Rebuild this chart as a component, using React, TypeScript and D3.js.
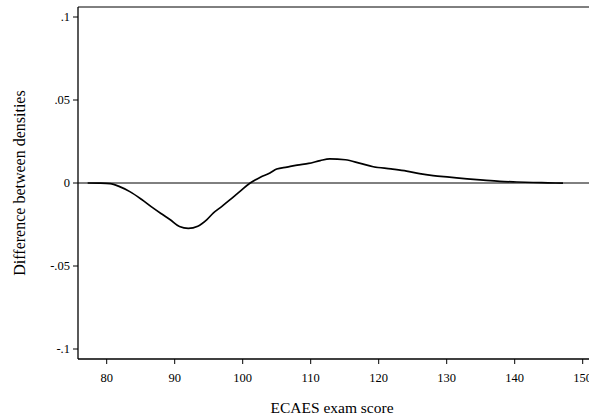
import React from "react";
import * as d3 from "d3";

// ECAES exam score grid and the difference between the two kernel densities
const scores = [77.2, 78.9, 80.5, 81.9, 83.4, 85.1, 86.8, 88.1, 89.4, 90.7, 92.0, 93.4, 94.7, 95.7, 96.9, 98.1, 99.6, 101.1, 102.6, 104.0, 105.0, 106.5, 108.0, 109.7, 111.4, 112.8, 115.1, 117.3, 119.2, 121.8, 124.1, 126.0, 128.0, 130.4, 133.0, 135.4, 137.8, 140.3, 142.7, 144.9, 147.1];
const diffs = [0, -0.0001, -0.0004, -0.0022, -0.0052, -0.0098, -0.015, -0.0187, -0.0223, -0.0262, -0.0273, -0.026, -0.0222, -0.018, -0.0142, -0.0102, -0.005, 0, 0.0035, 0.006, 0.0084, 0.0096, 0.0108, 0.0118, 0.0135, 0.0145, 0.014, 0.0118, 0.0098, 0.0085, 0.0072, 0.0056, 0.0044, 0.0035, 0.0025, 0.0017, 0.001, 0.0006, 0.0003, 0.0001, -0.0001];

const xTicks = [80, 90, 100, 110, 120, 130, 140, 150];
const yTicks = [-0.1, -0.05, 0, 0.05, 0.1];
const yTickLabels = ["-.1", "-.05", "0", ".05", ".1"];

const W = 589;
const H = 417;
const left = 78;
const top = 7;
const right = 600;
const bottom = 359;

const font = "Liberation Serif, DejaVu Serif, serif";
const txt = { fontFamily: font, fill: "#000" };

export default function App() {
  const x = d3.scaleLinear().domain([80, 150]).range([106.7, 582.7]);
  const y = d3.scaleLinear().domain([-0.1, 0.1]).range([349, 17]);
  const pts: [number, number][] = scores.map((s, i) => [s, diffs[i]]);
  const line = d3
    .line<[number, number]>()
    .x((d) => x(d[0]))
    .y((d) => y(d[1]))
    .curve(d3.curveMonotoneX);

  return (
    <svg
      width={W}
      height={H}
      style={{ position: "absolute", left: 0, top: 0, background: "#fff", fontFamily: font }}
    >
      <rect x={0} y={0} width={W} height={H} fill="#fff" />
      {/* plot frame */}
      <line x1={left} y1={top} x2={right} y2={top} stroke="#000" strokeWidth={1} />
      <line x1={left} y1={top} x2={left} y2={bottom} stroke="#000" strokeWidth={1.3} />
      <line x1={left} y1={bottom} x2={right} y2={bottom} stroke="#000" strokeWidth={1.3} />
      {/* zero reference line */}
      <line x1={left} y1={y(0)} x2={right} y2={y(0)} stroke="#000" strokeWidth={1} />
      {/* y axis */}
      {yTicks.map((t, i) => (
        <g key={t}>
          <line x1={left - 5} x2={left} y1={y(t)} y2={y(t)} stroke="#000" strokeWidth={1} />
          <text x={left - 8} y={y(t)} dy="0.35em" textAnchor="end" fontSize={12.5} style={txt}>
            {yTickLabels[i]}
          </text>
        </g>
      ))}
      <text
        transform={`translate(19, ${y(0)}) rotate(-90)`}
        textAnchor="middle"
        dy="0.35em"
        fontSize={16}
        style={txt}
      >
        Difference between densities
      </text>
      {/* x axis */}
      {xTicks.map((t) => (
        <g key={t}>
          <line x1={x(t)} x2={x(t)} y1={bottom} y2={bottom + 5} stroke="#000" strokeWidth={1} />
          <text x={x(t)} y={378} dy="0.35em" textAnchor="middle" fontSize={12.5} style={txt}>
            {t}
          </text>
        </g>
      ))}
      <text x={332} y={408} dy="0.35em" textAnchor="middle" fontSize={15.5} style={txt}>
        ECAES exam score
      </text>
      {/* density difference curve */}
      <path d={line(pts) ?? ""} fill="none" stroke="#000" strokeWidth={1.7} />
    </svg>
  );
}
